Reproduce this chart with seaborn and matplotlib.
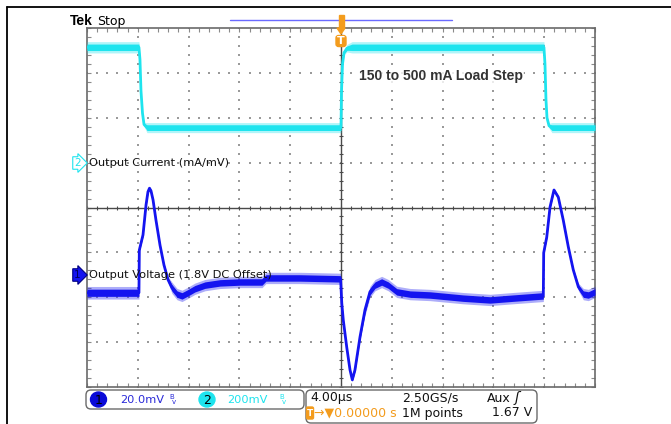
import numpy as np
import pandas as pd
import seaborn as sns
import matplotlib.pyplot as plt
from matplotlib.patches import FancyBboxPatch, Ellipse, Rectangle, Polygon

# Scope settings: 4 us/div horizontally, values stored in screen divisions
# ch2 = output current (cyan), ch1 = output voltage (blue)
ch2_t = [-20.0, -15.91, -15.83, -15.75, -15.63, -15.51, -15.28, 0.0, 0.04, 0.12,
         0.24, 0.47, 0.87, 15.98, 16.06, 16.14, 16.22, 16.38, 16.61, 20.0]
ch2_div = [3.57, 3.57, 3.30, 2.60, 2.10, 1.85, 1.78, 1.78, 2.60, 3.20,
           3.45, 3.55, 3.57, 3.57, 3.20, 2.40, 2.00, 1.82, 1.78, 1.78]
ch2_noise = [0.09, 0.09, 0.02, 0.02, 0.02, 0.03, 0.08, 0.08, 0.02, 0.02,
             0.03, 0.06, 0.09, 0.09, 0.02, 0.02, 0.02, 0.04, 0.08, 0.08]

ch1_t = [-20.0, -15.91, -15.88, -15.59, -15.35, -15.20, -15.08, -14.96, -14.80, -14.57,
         -14.25, -13.94, -13.62, -13.31, -12.91, -12.52, -12.05, -11.50, -10.71, -9.53,
         -7.95, -6.22, -5.91, -3.23, -0.03, 0.06, 0.18, 0.45, 0.71, 0.89,
         1.10, 1.50, 1.89, 2.28, 2.68, 3.20, 3.72, 4.39, 5.43, 7.01,
         9.61, 11.73, 13.54, 15.93, 15.96, 16.20, 16.46, 16.77, 17.11, 17.50,
         17.90, 18.29, 18.69, 19.08, 19.47, 20.0]
ch1_div = [-1.90, -1.90, -0.95, -0.61, 0.06, 0.35, 0.43, 0.37, 0.17, -0.28,
           -0.84, -1.28, -1.61, -1.79, -1.93, -1.97, -1.90, -1.81, -1.73, -1.68,
           -1.66, -1.66, -1.57, -1.57, -1.59, -2.13, -2.51, -3.11, -3.62, -3.84,
           -3.62, -2.88, -2.28, -1.88, -1.73, -1.66, -1.73, -1.88, -1.93, -1.95,
           -2.02, -2.06, -2.02, -1.97, -1.01, -0.66, 0.01, 0.39, 0.23, -0.28,
           -0.88, -1.39, -1.77, -1.93, -1.95, -1.88]
ch1_noise = ([0.10] * 2 + [0.03] * 10 + [0.05] + [0.09] * 12 + [0.03] * 6 + [0.05]
             + [0.09] * 12 + [0.03] * 8 + [0.06] + [0.09] * 3)

cur = pd.DataFrame({'t': ch2_t, 'v': ch2_div, 'n': ch2_noise})
vol = pd.DataFrame({'t': ch1_t, 'v': ch1_div, 'n': ch1_noise})

CYAN = '#1ee4ee'
BLUE = '#1414f0'
ORANGE = '#f39c1e'

sns.set_theme(style='white')
plt.rcParams['font.family'] = ['DejaVu Sans']

fig = plt.figure(figsize=(6.71, 4.24), dpi=100)
ax = fig.add_axes([87 / 671, 37 / 424, 508 / 671, 359 / 424])
ax.set_xlim(-20, 20)
ax.set_ylim(-4, 4)

# graticule: dotted division lines, crosshair with ticks
gx = np.arange(-20, 20.01, 0.8)
gy = np.arange(-4, 4.01, 0.2)
for k in [-3, -2, -1, 1, 2, 3]:
    ax.scatter(gx, np.full_like(gx, k), marker='s', s=1.5, color='#9a9a9a', linewidths=0, zorder=1)
for k in [-16, -12, -8, -4, 4, 8, 12, 16]:
    ax.scatter(np.full_like(gy, k), gy, marker='s', s=1.5, color='#9a9a9a', linewidths=0, zorder=1)
ax.axhline(0, color='#4a4a4a', lw=1, zorder=2)
ax.axvline(0, color='#4a4a4a', lw=1, zorder=2)
ax.scatter(gx, np.zeros_like(gx), marker='|', s=10, color='#4a4a4a', linewidths=0.8, zorder=2)
ax.scatter(np.zeros_like(gy), gy, marker='_', s=10, color='#4a4a4a', linewidths=0.8, zorder=2)

ax.set_xticks(np.arange(-20, 21, 4))
ax.set_xticks(gx, minor=True)
ax.set_yticks(np.arange(-4, 5, 1))
ax.set_yticks(gy, minor=True)
ax.tick_params(which='both', direction='in', length=3, width=0.8, color='#8a8a8a',
               top=True, right=True, bottom=True, left=True,
               labelbottom=False, labelleft=False)
for s in ax.spines.values():
    s.set_color('#6a6a6a')
    s.set_linewidth(1.2)

# traces: solid core band plus a faint outer halo for the noise
for df, col, z in [(cur, CYAN, 3), (vol, BLUE, 4)]:
    ax.fill_between(df['t'], df['v'] - 1.4 * df['n'], df['v'] + 1.4 * df['n'],
                    color=col, lw=0, alpha=0.35, zorder=z)
    ax.fill_between(df['t'], df['v'] - 0.8 * df['n'], df['v'] + 0.8 * df['n'],
                    color=col, lw=0, zorder=z)
    sns.lineplot(data=df, x='t', y='v', ax=ax, color=col, linewidth=2.0,
                 estimator=None, sort=False, zorder=z)
ax.set_xlabel('')
ax.set_ylabel('')

# overlay in pixel coordinates for the scope annotations
ov = fig.add_axes([0, 0, 1, 1], zorder=5)
ov.set_xlim(0, 671)
ov.set_ylim(424, 0)
ov.axis('off')

ov.plot([7, 671], [7, 7], color='black', lw=1.3)
ov.plot([7, 7], [7, 424], color='black', lw=1.3)

ov.text(70, 21, 'Tek', fontsize=10, fontweight='bold', family='Liberation Sans',
        color='black', va='center')
ov.text(97, 21, 'Stop', fontsize=9, color='black', va='center')

# record view bar and trigger markers
ov.plot([230, 452], [20, 20], color='#6a6aff', lw=1)
ov.add_patch(Rectangle((338.5, 15), 5, 13, color=ORANGE, zorder=6))
ov.add_patch(Polygon([[337, 28], [345, 28], [341, 34]], color=ORANGE, zorder=6))
ov.add_patch(FancyBboxPatch((336, 35.5), 10, 11, boxstyle='round,pad=0,rounding_size=2.5',
                            color=ORANGE, zorder=6))
ov.text(341, 41.5, 'T', fontsize=8, fontweight='bold', color='white', ha='center', va='center', zorder=7)

ov.text(359, 76, '150 to 500 mA Load Step', fontsize=10, fontweight='bold',
        family='Liberation Sans', color='#333333', va='center',
        bbox=dict(facecolor='white', edgecolor='none', pad=1, alpha=0.8))

# channel labels
ov.text(74, 163, '2', fontsize=7.5, color=CYAN, va='center',
        bbox=dict(boxstyle='rarrow,pad=0.12', facecolor='white', edgecolor=CYAN, lw=0.8))
ov.text(89, 163, 'Output Current (mA/mV)', fontsize=8.2, color='#111111', va='center')
ov.text(74, 275, '1', fontsize=7.5, color='#000060', va='center',
        bbox=dict(boxstyle='rarrow,pad=0.12', facecolor=BLUE, edgecolor='#000080', lw=0.8))
ov.text(89, 275, 'Output Voltage (1.8V DC Offset)', fontsize=8.2, color='#111111', va='center')

# bottom status boxes
ov.add_patch(FancyBboxPatch((86, 390), 218, 19, boxstyle='round,pad=0,rounding_size=5',
                            facecolor='white', edgecolor='#6a6a6a', lw=1))
ov.add_patch(Ellipse((98.5, 399.5), 16, 15, color='#0a0ad8'))
ov.text(98.5, 400, '1', fontsize=9, color='black', ha='center', va='center')
ov.text(120, 400, '20.0mV', fontsize=8.2, color='#2a2ad8', va='center')
ov.text(169, 397, 'B', fontsize=5, color='#2a2ad8', va='center')
ov.text(172, 402, 'v', fontsize=5, color='#2a2ad8', va='center')
ov.add_patch(Ellipse((207, 399.5), 16, 15, color=CYAN))
ov.text(207, 400, '2', fontsize=9, color='black', ha='center', va='center')
ov.text(227, 400, '200mV', fontsize=8.2, color=CYAN, va='center')
ov.text(279, 397, 'B', fontsize=5, color=CYAN, va='center')
ov.text(282, 402, 'v', fontsize=5, color=CYAN, va='center')

ov.add_patch(FancyBboxPatch((306, 390), 231, 33, boxstyle='round,pad=0,rounding_size=5',
                            facecolor='white', edgecolor='#6a6a6a', lw=1))
ov.text(310, 398, '4.00\u00b5s', fontsize=9, color='#111111', va='center')
ov.text(402, 398, '2.50GS/s', fontsize=9, color='#111111', va='center')
ov.text(487, 398, 'Aux', fontsize=9, color='#111111', va='center')
ov.text(515, 398, '\u0283', fontsize=10, color='#111111', va='center', style='italic')
ov.add_patch(FancyBboxPatch((306.5, 407), 7, 12, boxstyle='round,pad=0,rounding_size=1.5',
                            color=ORANGE))
ov.text(310, 413.5, 'T', fontsize=6.5, color='white', fontweight='bold', ha='center', va='center')
ov.text(314, 413, '\u2192\u25bc0.00000 s', fontsize=9, color=ORANGE, va='center')
ov.text(402, 413, '1M points', fontsize=9, color='#111111', va='center')
ov.text(532, 413, '1.67 V', fontsize=9, color='#111111', va='center', ha='right')

fig.savefig('out.png', dpi=100)
